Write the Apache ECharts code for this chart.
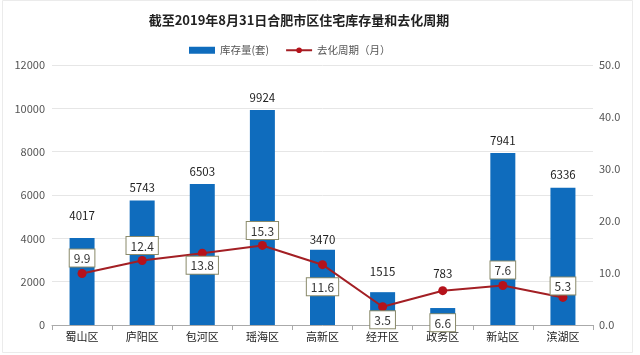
<!DOCTYPE html>
<html><head><meta charset="utf-8">
<script src="https://cdn.jsdelivr.net/npm/echarts@6/dist/echarts.min.js"></script>
<style>html,body{margin:0;padding:0;background:#fff}#c{width:640px;height:355px}</style>
</head><body><div id="c"></div>
<script>
const categories = ['蜀山区','庐阳区','包河区','瑶海区','高新区','经开区','政务区','新站区','滨湖区'];
const stock = [4017, 5743, 6503, 9924, 3470, 1515, 783, 7941, 6336];
const cycle = [9.9, 12.4, 13.8, 15.3, 11.6, 3.5, 6.6, 7.6, 5.3];
const cycleLabelPos = ['top','top','bottom','top','bottom','bottom','bottom','top','top'];
const cycleLabelGap = [2.5, 2, -1, 2, 9, 0, 19, 2.5, -1.5];
const stockLabelGap = [17, 7, 7, 7, 4, 15, 29, 7, 7];
const leftTicks = [0, 12000, 2000];
const rightTicks = [0, 50, 10];

const font = '"Noto Sans CJK SC", "Noto Sans", sans-serif';
const chart = echarts.init(document.getElementById('c'));
chart.setOption({
  animation: false,
  textStyle: {fontFamily: font},
  graphic: [{type: 'rect', shape: {x: 2.5, y: 0.5, width: 630, height: 352},
    style: {fill: 'none', stroke: '#ebebeb', lineWidth: 1}, silent: true, z: -1}],
  title: {
    text: '截至2019年8月31日合肥市区住宅库存量和去化周期',
    left: 294, textAlign: 'center', top: 9,
    textStyle: {fontSize: 13, fontWeight: 'bold', color: '#222', fontFamily: font}
  },
  legend: {
    top: 40, left: 184,
    itemGap: 16,
    textStyle: {fontSize: 10.5, color: '#555', fontFamily: font},
    data: [
      {name: '库存量(套)', icon: 'rect', itemStyle: {color: '#0f6cbd'}},
      {name: '去化周期（月）'}
    ],
    itemWidth: 26, itemHeight: 7
  },
  grid: {left: 52, right: 47, top: 65, bottom: 30},
  xAxis: {
    type: 'category', data: categories,
    axisLine: {lineStyle: {color: '#aaa'}},
    axisTick: {show: true, lineStyle: {color: '#aaa'}},
    axisLabel: {color: '#222', fontSize: 11, margin: 6, fontFamily: font}
  },
  yAxis: [
    {type: 'value', min: leftTicks[0], max: leftTicks[1], interval: leftTicks[2],
     axisLine: {show: false}, axisTick: {show: false},
     splitLine: {lineStyle: {color: '#e6e6e6'}},
     axisLabel: {color: '#555', fontSize: 11, margin: 7, formatter: v => String(v)}},
    {type: 'value', min: rightTicks[0], max: rightTicks[1], interval: rightTicks[2],
     axisLine: {show: false}, axisTick: {show: false},
     splitLine: {show: false},
     axisLabel: {color: '#555', fontSize: 11, margin: 6, formatter: v => v.toFixed(1)}}
  ],
  series: [
    {name: '库存量(套)', type: 'bar', barWidth: 25,
     data: stock.map((v, i) => ({value: v, label: {distance: stockLabelGap[i]}})),
     itemStyle: {color: '#0f6cbd'},
     label: {show: true, position: 'top', color: '#222', fontSize: 11.5}},
    {name: '去化周期（月）', type: 'line', yAxisIndex: 1,
     data: cycle.map((v, i) => ({value: v, label: {position: cycleLabelPos[i], distance: cycleLabelGap[i]}})),
     symbol: 'circle', symbolSize: 9,
     lineStyle: {color: '#a31f24', width: 2},
     itemStyle: {color: '#b5121b'},
     label: {show: true, color: '#333', fontSize: 12,
       backgroundColor: '#fff', borderColor: '#8a8a6a', borderWidth: 1,
       padding: [3, 4, 2, 4], formatter: p => p.value.toFixed(1)}}
  ]
});
</script></body></html>
